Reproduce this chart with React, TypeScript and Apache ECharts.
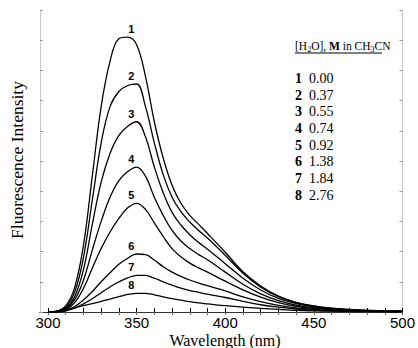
import React, { useEffect, useRef } from "react";
import * as echarts from "echarts";

const wavelengths = [300, 305, 310, 315, 320, 325, 330, 335, 340, 345, 350, 355, 360, 365, 370, 375, 380, 385, 390, 400, 410, 420, 430, 440, 450, 460, 475, 490, 500];

const curve1 = [0, 0.3, 2, 8, 22, 45, 68, 83, 90.5, 91, 88.5, 78, 63, 51, 42, 36, 32, 29, 26, 19.8, 13.3, 8.6, 5.3, 3.2, 2, 1.3, 0.7, 0.4, 0.3];
const curve2 = [0, 0.25, 1.6, 6.5, 18, 37, 56, 68, 73, 75, 75.5, 68, 56, 45.5, 38, 33.2, 29.8, 27, 24.5, 18.8, 12.8, 8.2, 5.1, 3.1, 1.9, 1.2, 0.65, 0.4, 0.3];
const curve3 = [0, 0.2, 1.3, 5, 14, 29, 43, 52.5, 58.5, 61.5, 63, 58, 48, 39.5, 33, 28.8, 25.6, 23, 20.8, 16, 11.2, 7.3, 4.5, 2.8, 1.7, 1.1, 0.55, 0.3, 0.2];
const curve4 = [0, 0.15, 1, 4, 10.5, 20.5, 30, 38, 43.5, 46.5, 48, 45, 38, 32, 27, 23.5, 21, 19, 17.3, 13.2, 9.2, 6, 3.8, 2.3, 1.4, 0.9, 0.5, 0.3, 0.2];
const curve5 = [0, 0.1, 0.8, 3, 7.8, 14.5, 21, 26.5, 31, 34.5, 36, 34, 29.5, 25, 21, 18.3, 16.2, 14.6, 13.2, 10.2, 7.3, 4.9, 3.1, 1.9, 1.2, 0.75, 0.4, 0.2, 0.1];
const curve6 = [0, 0.1, 0.5, 1.8, 4, 6.8, 10, 13, 15.8, 17.8, 19.2, 19, 17.2, 15, 13.2, 11.8, 10.6, 9.6, 8.7, 7, 5, 3.4, 2.2, 1.4, 0.9, 0.55, 0.3, 0.2, 0.1];
const curve7 = [0, 0.07, 0.4, 1.3, 2.7, 4.4, 6.4, 8.3, 10, 11.3, 12.1, 12.1, 11.2, 10, 8.9, 7.9, 7.1, 6.5, 5.9, 4.8, 3.5, 2.4, 1.6, 1, 0.65, 0.4, 0.2, 0.1, 0.1];
const curve8 = [0, 0.1, 0.6, 1.4, 2.1, 2.8, 3.5, 4.3, 5.1, 5.8, 6.2, 6.2, 5.7, 5, 4.4, 3.9, 3.4, 3, 2.7, 2.1, 1.6, 1.2, 0.85, 0.55, 0.38, 0.26, 0.15, 0.1, 0.05];

const curves = [curve1, curve2, curve3, curve4, curve5, curve6, curve7, curve8];
const curveIds = ["1", "2", "3", "4", "5", "6", "7", "8"];
const waterConcentrations = ["0.00", "0.37", "0.55", "0.74", "0.92", "1.38", "1.84", "2.76"];

const xTickValues = [300, 310, 320, 330, 340, 350, 360, 370, 380, 390, 400, 410, 420, 430, 440, 450, 460, 470, 480, 490, 500];
const xLabelValues = [300, 350, 400, 450, 500];
const peakLabelWavelength = 347;

const xTitle = "Wavelength (nm)";
const yTitle = "Fluorescence Intensity";

const SERIF = "Times New Roman";
const SANS = "Liberation Sans";

export default function App() {
  const ref = useRef<HTMLDivElement>(null);

  useEffect(() => {
    if (!ref.current) return;
    const chart = echarts.init(ref.current, undefined, { renderer: "svg" });

    const series: any[] = curves.map((vals, i) => ({
      type: "line",
      name: curveIds[i],
      data: wavelengths.map((w, j) => [w, vals[j]]),
      showSymbol: false,
      smooth: 0.4,
      lineStyle: { color: "#000", width: 1.3 },
      xAxisIndex: 0,
      yAxisIndex: 0,
      markPoint: {
        symbol: "circle",
        symbolSize: 1,
        itemStyle: { color: "rgba(0,0,0,0)" },
        label: {
          show: true,
          position: "top",
          distance: 2,
          formatter: curveIds[i],
          fontFamily: SANS,
          fontWeight: "bold",
          fontSize: 11,
          color: "#000",
        },
        data: [{ coord: [peakLabelWavelength, Math.max(...vals)] }],
      },
    }));

    const legendLines = curveIds
      .map((id, i) => `{b|${id}}  {v|${waterConcentrations[i]}}`)
      .join("\n");

    chart.setOption({
      animation: false,
      backgroundColor: "#fff",
      grid: { left: 40, right: 12, top: 10, bottom: 36 },
      xAxis: [
        {
          type: "value",
          position: "bottom",
          min: 295.5,
          max: 500,
          axisLine: { show: true, lineStyle: { color: "#000", width: 1 } },
          axisTick: { show: true, inside: true, length: 4, customValues: xTickValues, lineStyle: { color: "#000" } },
          axisLabel: { show: true, customValues: xLabelValues, fontFamily: SANS, fontSize: 15, color: "#000", margin: 3 },
          splitLine: { show: false },
        },
        {
          type: "value",
          position: "top",
          min: 295.5,
          max: 500,
          axisLine: { show: true, lineStyle: { color: "#333", width: 1 } },
          axisTick: { show: true, inside: true, length: 3, customValues: xTickValues, lineStyle: { color: "#666" } },
          axisLabel: { show: false },
          splitLine: { show: false },
        },
      ],
      yAxis: [
        {
          type: "value",
          position: "left",
          min: 0,
          max: 100,
          interval: 10,
          axisLine: { show: true, lineStyle: { color: "#bbb", width: 1, type: "dotted" } },
          axisTick: { show: true, inside: true, length: 3, lineStyle: { color: "#999" } },
          axisLabel: { show: false },
          splitLine: { show: false },
        },
        {
          type: "value",
          position: "right",
          min: 0,
          max: 100,
          interval: 10,
          axisLine: { show: true, lineStyle: { color: "#bbb", width: 1, type: "dotted" } },
          axisTick: { show: true, inside: true, length: 3, lineStyle: { color: "#999" } },
          axisLabel: { show: false },
          splitLine: { show: false },
        },
      ],
      graphic: [
        {
          type: "text",
          x: 225,
          y: 340,
          style: {
            text: `{t|${xTitle}}`,
            fontFamily: SERIF,
            fontSize: 16,
            fill: "#000",
            align: "center",
            verticalAlign: "middle",
            rich: {
              t: { fontFamily: SERIF, fontSize: 16, lineHeight: 16 },
            },
          },
        },
        {
          type: "text",
          x: 16.5,
          y: 160,
          rotation: Math.PI / 2,
          style: {
            text: yTitle,
            fontFamily: SERIF,
            fontSize: 17.5,
            fill: "#000",
            align: "center",
            verticalAlign: "middle",
          },
        },
        {
          type: "text",
          x: 295,
          y: 38,
          style: {
            text: "{n|[H}{sub|2}{n|O], }{b|M}{n| in CH}{sub|3}{n|CN}",
            fontFamily: SERIF,
            fontSize: 11.5,
            lineHeight: 15,
            fill: "#000",
            align: "left",
            verticalAlign: "top",
            rich: {
              n: { fontFamily: SERIF, fontSize: 11.5, lineHeight: 15 },
              sub: { fontFamily: SERIF, fontSize: 8, verticalAlign: "bottom" },
              b: { fontFamily: SERIF, fontSize: 11.5, fontWeight: "bold", lineHeight: 15 },
            },
          },
        },
        {
          type: "line",
          shape: { x1: 295, y1: 53, x2: 382, y2: 53 },
          style: { stroke: "#000", lineWidth: 1 },
        },
        {
          type: "text",
          x: 295,
          y: 70,
          style: {
            text: legendLines,
            fontFamily: SERIF,
            fontSize: 14,
            lineHeight: 16.7,
            fill: "#000",
            align: "left",
            verticalAlign: "top",
            rich: {
              b: { fontFamily: SERIF, fontSize: 14, fontWeight: "bold", lineHeight: 16.7 },
              v: { fontFamily: SERIF, fontSize: 14, lineHeight: 16.7 },
            },
          },
        },
      ],
      series,
    });

    return () => chart.dispose();
  }, []);

  return (
    <div
      ref={ref}
      style={{ position: "fixed", left: 0, top: 0, width: 418, height: 348, background: "#fff" }}
    />
  );
}
